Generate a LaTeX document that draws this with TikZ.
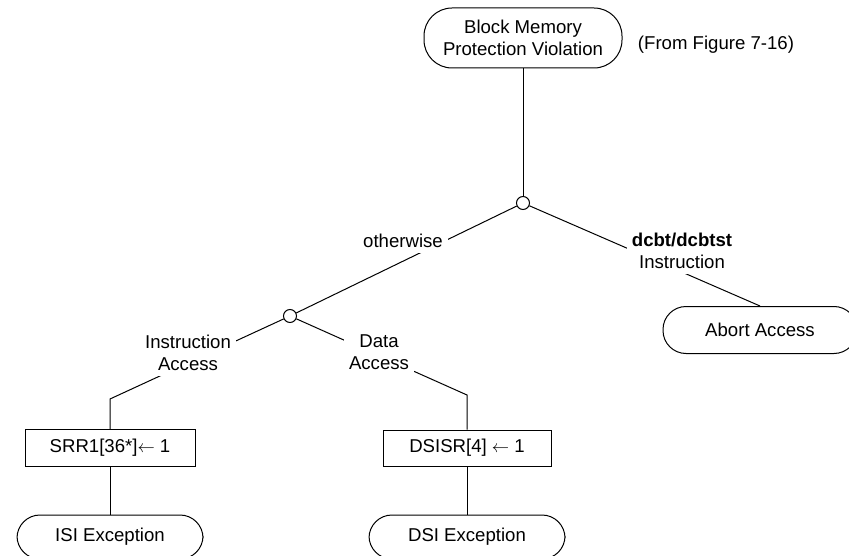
\documentclass[tikz,border=0pt]{standalone}
\usepackage{fontspec}
\setmainfont{Liberation Sans}
\usetikzlibrary{positioning,shapes.misc}

\begin{document}
\begin{tikzpicture}[
    x=1pt, y=-1pt,
    line width=1pt,
    every node/.style={font=\fontsize{18.6}{22}\selectfont},
    term/.style={draw, rounded corners=23pt, align=center, minimum height=46pt},
    act/.style={draw, rectangle, minimum width=170pt, minimum height=37pt},
    branch/.style={draw, circle, fill=white, minimum size=13pt, inner sep=0pt},
    lbl/.style={fill=white, align=center, inner sep=5pt}
]
\useasboundingbox (0,0) rectangle (849,556);

\node[term, rounded corners=28pt, minimum width=198pt, minimum height=60pt] (start) at (523,38) {Block Memory\\Protection Violation};
\node (ref) at (716,45) {(From Figure 7-16)};
\node[branch] (split1) at (523,203) {};
\node[branch] (split2) at (290,316) {};
\node[term, minimum width=194pt, minimum height=47pt] (abort) at (760,330) {Abort Access};
\coordinate (bendI) at (110,399);
\coordinate (bendD) at (467,395);
\node[act] (srr) at (110,448) {SRR1[36*]$\leftarrow$ 1};
\node[act, minimum width=168pt, minimum height=36pt] (dsisr) at (467,448) {DSISR[4] $\leftarrow$ 1};
\node[term, minimum width=186pt, minimum height=44pt] (isi) at (110,537) {ISI Exception};
\node[term, minimum width=196pt, minimum height=44pt] (dsi) at (467,537) {DSI Exception};

\draw (start) -- (split1);
\draw (split1) -- (split2);
\draw (split1) -- (abort.north);
\draw (split2) -- (bendI) -- (srr);
\draw (split2) -- (bendD) -- (dsisr);
\draw (srr) -- (isi);
\draw (dsisr) -- (dsi);

% branch labels over the lines
\node[lbl] (otherwise) at (403,241) {otherwise};
\node[lbl] (dcbt) at (682,251) {\textbf{dcbt/dcbtst}\\Instruction};
\node[lbl] (iacc) at (188,353) {Instruction\\Access};
\node[lbl] (dacc) at (379,352) {Data\\Access};
\end{tikzpicture}
\end{document}
